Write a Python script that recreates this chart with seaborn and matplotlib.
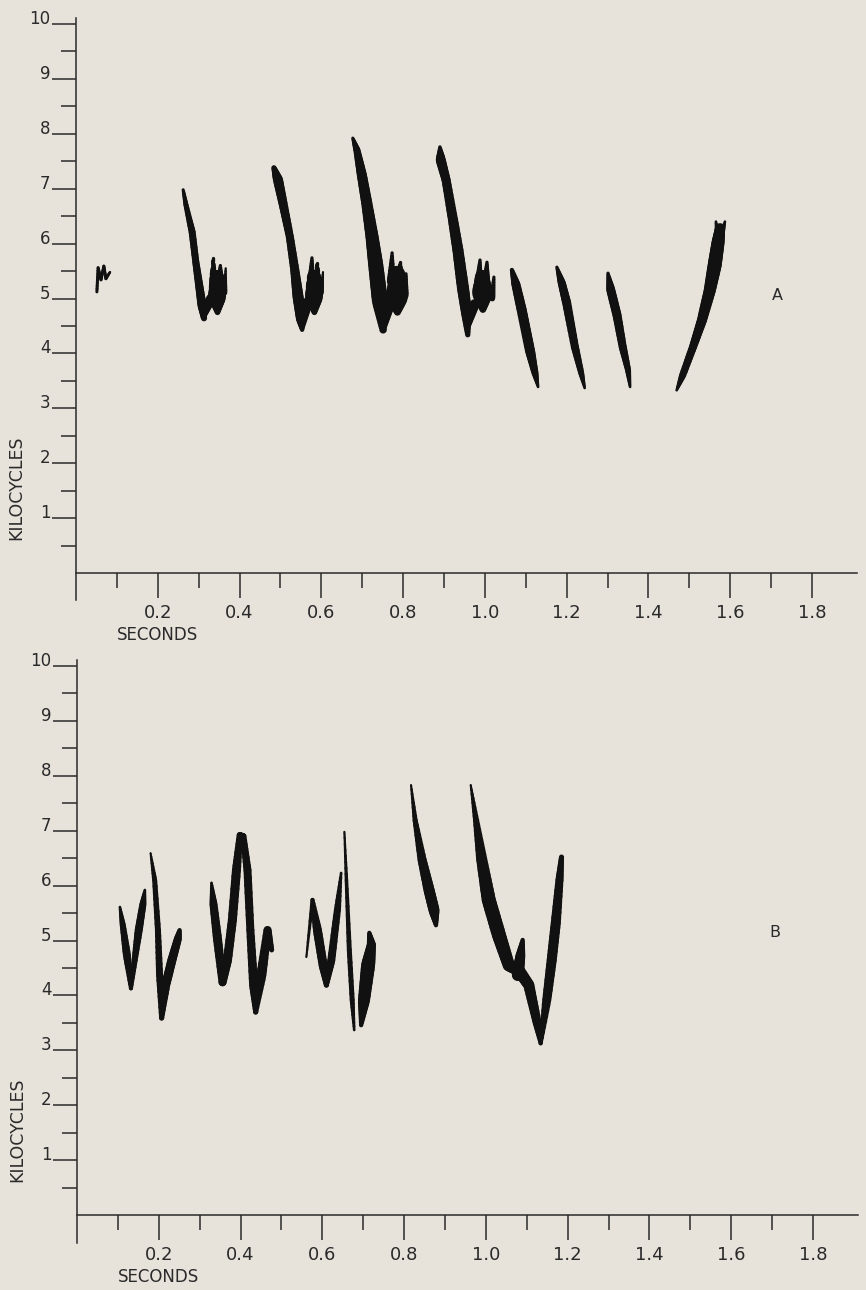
import numpy as np
import pandas as pd
import matplotlib
matplotlib.use("Agg")
import matplotlib.pyplot as plt
import seaborn as sns
from matplotlib.collections import LineCollection
from matplotlib.ticker import FixedLocator

# ---------------- axis data ----------------
X_MAJOR = [0.2, 0.4, 0.6, 0.8, 1.0, 1.2, 1.4, 1.6, 1.8]
X_LABELS = ["0.2", "0.4", "0.6", "0.8", "1.0", "1.2", "1.4", "1.6", "1.8"]
X_MINOR = [0.1, 0.3, 0.5, 0.7, 0.9, 1.1, 1.3, 1.5, 1.7]
Y_MAJOR = [1, 2, 3, 4, 5, 6, 7, 8, 9, 10]
Y_LABELS = ["1", "2", "3", "4", "5", "6", "7", "8", "9", "10"]
Y_MINOR = [0.5, 1.5, 2.5, 3.5, 4.5, 5.5, 6.5, 7.5, 8.5, 9.5]
X_TITLE = "SECONDS"
Y_TITLE = "KILOCYCLES"
PANEL_NAMES = ["A", "B"]
PANEL_LABEL_POS = [(1.715, 5.05), (1.707, 5.15)]

# ---------------- sonogram traces: time (s), frequency (kHz), trace thickness (px) ----------------
# Panel A
A0_t = [0.051, 0.054, 0.061, 0.068, 0.073, 0.083]
A0_f = [5.12, 5.56, 5.34, 5.59, 5.36, 5.48]
A0_w = [3, 3, 3, 3, 3, 2.5]

A1_t = [0.262, 0.269, 0.284, 0.293, 0.301, 0.308, 0.313]
A1_f = [6.98, 6.70, 6.21, 5.66, 5.25, 4.88, 4.64]
A1_w = [3, 5, 7, 7, 8, 9, 6]
A1k_t = [0.313, 0.330]; A1k_f = [4.70, 5.00]; A1k_w = [6, 10]
A1b_t = [0.346, 0.345, 0.345]; A1b_f = [4.75, 5.05, 5.40]; A1b_w = [5, 18, 14]
A1c1_t = [0.335, 0.335]; A1c1_f = [5.30, 5.74]; A1c1_w = [8, 3]
A1c2_t = [0.352, 0.353]; A1c2_f = [5.30, 5.60]; A1c2_w = [8, 3]
A1c3_t = [0.364, 0.366]; A1c3_f = [5.10, 5.55]; A1c3_w = [5, 2]

A2_t = [0.484, 0.494, 0.506, 0.523, 0.535, 0.543, 0.550, 0.553]
A2_f = [7.38, 7.16, 6.74, 6.12, 5.52, 5.03, 4.64, 4.43]
A2_w = [5, 10, 9, 8, 9, 11, 10, 4]
A2k_t = [0.553, 0.568]; A2k_f = [4.50, 4.95]; A2k_w = [6, 10]
A2b_t = [0.583, 0.582, 0.582]; A2b_f = [4.75, 5.05, 5.40]; A2b_w = [5, 18, 14]
A2c1_t = [0.575, 0.577]; A2c1_f = [5.30, 5.74]; A2c1_w = [8, 3]
A2c2_t = [0.589, 0.589]; A2c2_f = [5.30, 5.65]; A2c2_w = [8, 3]
A2c3_t = [0.600, 0.604]; A2c3_f = [5.10, 5.48]; A2c3_w = [5, 2]

A3_t = [0.677, 0.687, 0.699, 0.711, 0.724, 0.733, 0.743, 0.751]
A3_f = [7.92, 7.70, 7.25, 6.74, 6.12, 5.61, 4.97, 4.43]
A3_w = [3, 7, 10, 11, 13, 15, 16, 7]
A3k_t = [0.751, 0.768]; A3k_f = [4.50, 4.95]; A3k_w = [8, 12]
A3b_t = [0.786, 0.785, 0.785]; A3b_f = [4.75, 5.05, 5.45]; A3b_w = [6, 22, 16]
A3c1_t = [0.771, 0.773]; A3c1_f = [5.30, 5.83]; A3c1_w = [9, 3]
A3c2_t = [0.792, 0.792]; A3c2_f = [5.30, 5.66]; A3c2_w = [9, 3]
A3c3_t = [0.805, 0.807]; A3c3_f = [5.05, 5.45]; A3c3_w = [7, 3]

A4_t = [0.890, 0.892, 0.905, 0.922, 0.934, 0.946, 0.954, 0.958]
A4_f = [7.76, 7.52, 7.16, 6.43, 5.88, 5.21, 4.79, 4.34]
A4_w = [3, 10, 9, 10, 11, 12, 11, 5]
A4k_t = [0.958, 0.975]; A4k_f = [4.50, 4.90]; A4k_w = [6, 10]
A4b_t = [0.995, 0.994, 0.994]; A4b_f = [4.80, 5.10, 5.40]; A4b_w = [6, 20, 14]
A4c1_t = [0.985, 0.988]; A4c1_f = [5.30, 5.70]; A4c1_w = [8, 3]
A4c2_t = [1.003, 1.005]; A4c2_f = [5.30, 5.66]; A4c2_w = [8, 3]
A4c3_t = [1.018, 1.022]; A4c3_f = [5.00, 5.39]; A4c3_w = [6, 3]

A5_t = [1.066, 1.076, 1.090, 1.110, 1.122, 1.130]
A5_f = [5.52, 5.25, 4.79, 4.06, 3.66, 3.39]
A5_w = [4, 9, 10, 10, 7, 2.5]

A6_t = [1.176, 1.188, 1.200, 1.220, 1.235, 1.244]
A6_f = [5.57, 5.28, 4.92, 4.12, 3.66, 3.37]
A6_w = [3, 8, 9, 8, 6, 2.5]

A7_t = [1.301, 1.308, 1.323, 1.337, 1.350, 1.355]
A7_f = [5.46, 5.15, 4.70, 4.12, 3.70, 3.39]
A7_w = [3, 9, 9, 8, 6, 2.5]

A8_t = [1.469, 1.484, 1.509, 1.531, 1.550, 1.562, 1.570, 1.575]
A8_f = [3.33, 3.61, 4.12, 4.61, 5.15, 5.61, 6.01, 6.28]
A8_w = [2.5, 7, 8, 10, 12, 14, 13, 10]
A8p1_t = [1.570, 1.565]; A8p1_f = [6.10, 6.40]; A8p1_w = [6, 2.5]
A8p2_t = [1.578, 1.587]; A8p2_f = [6.10, 6.40]; A8p2_w = [6, 2.5]

# Panel B
B1_t = [0.105, 0.112, 0.122, 0.132, 0.141, 0.151, 0.161, 0.166]
B1_f = [5.61, 5.28, 4.74, 4.13, 4.64, 5.19, 5.65, 5.92]
B1_w = [2.5, 6, 8, 4, 6, 8, 7, 2.5]

B2_t = [0.180, 0.190, 0.198, 0.202, 0.207, 0.217, 0.232, 0.246, 0.251]
B2_f = [6.59, 6.10, 5.19, 4.37, 3.59, 4.19, 4.64, 5.01, 5.19]
B2_w = [2, 5, 6, 7, 5, 9, 9, 8, 4]

B3_t = [0.329, 0.334, 0.344, 0.356, 0.368, 0.380, 0.390, 0.398, 0.407,
        0.417, 0.424, 0.432, 0.437, 0.451, 0.466, 0.476]
B3_f = [6.05, 5.65, 5.01, 4.24, 4.64, 5.37, 6.28, 6.92, 6.90,
        6.28, 5.19, 4.19, 3.70, 4.37, 5.19, 4.83]
B3_w = [2.5, 8, 9, 8, 9, 9, 9, 6, 6, 8, 8, 9, 5, 10, 8, 5]

B4_t = [0.561, 0.576, 0.588, 0.602, 0.610, 0.622, 0.637, 0.646]
B4_f = [4.70, 5.74, 5.19, 4.55, 4.19, 4.64, 5.56, 6.23]
B4_w = [2, 4, 9, 9, 5, 8, 7, 2.5]

B5_t = [0.654, 0.659, 0.666, 0.673, 0.678]
B5_f = [6.98, 6.10, 4.83, 3.92, 3.37]
B5_w = [2, 3.5, 5, 5, 2.5]

B6_t = [0.695, 0.702, 0.712, 0.720, 0.715]
B6_f = [3.46, 3.92, 4.55, 4.92, 5.14]
B6_w = [4, 12, 14, 9, 4]

B7_t = [0.817, 0.827, 0.844, 0.861, 0.873, 0.878]
B7_f = [7.83, 7.19, 6.47, 5.92, 5.56, 5.28]
B7_w = [2, 5, 9, 11, 11, 4]

B8_t = [0.963, 0.976, 0.990, 1.007, 1.032, 1.056, 1.080, 1.105, 1.124, 1.134,
        1.149, 1.161, 1.171, 1.180, 1.185]
B8_f = [7.83, 7.19, 6.47, 5.74, 5.10, 4.55, 4.46, 4.19, 3.55, 3.13,
        3.92, 4.64, 5.32, 6.10, 6.52]
B8_w = [2, 6, 11, 14, 14, 12, 12, 11, 9, 4, 9, 10, 10, 8, 5]
B8c_t = [1.078, 1.084, 1.090]; B8c_f = [4.37, 4.70, 5.01]; B8c_w = [12, 10, 4]

PANEL_A_TRACES = [
    (A0_t, A0_f, A0_w),
    (A1_t, A1_f, A1_w), (A1k_t, A1k_f, A1k_w), (A1b_t, A1b_f, A1b_w),
    (A1c1_t, A1c1_f, A1c1_w), (A1c2_t, A1c2_f, A1c2_w), (A1c3_t, A1c3_f, A1c3_w),
    (A2_t, A2_f, A2_w), (A2k_t, A2k_f, A2k_w), (A2b_t, A2b_f, A2b_w),
    (A2c1_t, A2c1_f, A2c1_w), (A2c2_t, A2c2_f, A2c2_w), (A2c3_t, A2c3_f, A2c3_w),
    (A3_t, A3_f, A3_w), (A3k_t, A3k_f, A3k_w), (A3b_t, A3b_f, A3b_w),
    (A3c1_t, A3c1_f, A3c1_w), (A3c2_t, A3c2_f, A3c2_w), (A3c3_t, A3c3_f, A3c3_w),
    (A4_t, A4_f, A4_w), (A4k_t, A4k_f, A4k_w), (A4b_t, A4b_f, A4b_w),
    (A4c1_t, A4c1_f, A4c1_w), (A4c2_t, A4c2_f, A4c2_w), (A4c3_t, A4c3_f, A4c3_w),
    (A5_t, A5_f, A5_w), (A6_t, A6_f, A6_w), (A7_t, A7_f, A7_w),
    (A8_t, A8_f, A8_w), (A8p1_t, A8p1_f, A8p1_w), (A8p2_t, A8p2_f, A8p2_w),
]
PANEL_B_TRACES = [
    (B1_t, B1_f, B1_w), (B2_t, B2_f, B2_w), (B3_t, B3_f, B3_w),
    (B4_t, B4_f, B4_w), (B5_t, B5_f, B5_w), (B6_t, B6_f, B6_w),
    (B7_t, B7_f, B7_w), (B8_t, B8_f, B8_w), (B8c_t, B8c_f, B8c_w),
]

# ---------------- style ----------------
BG = "#e7e3db"
INK = "#111111"
AXC = "#2a2a2a"
DPI = 100
PX2PT = 72.0 / DPI

sns.set_theme(style="ticks")
plt.rcParams["font.family"] = ["DejaVu Sans"]
plt.rcParams["text.color"] = AXC


def draw_trace(ax, t, f, w):
    df = pd.DataFrame({"t": t, "f": f})
    sns.lineplot(data=df, x="t", y="f", sort=False, estimator=None,
                 color=INK, lw=1.0, ax=ax)
    t = np.asarray(t, float)
    f = np.asarray(f, float)
    w = np.asarray(w, float)
    segs, widths = [], []
    n = 8
    for i in range(len(t) - 1):
        for k in range(n):
            a, b = k / n, (k + 1) / n
            p0 = (t[i] + (t[i + 1] - t[i]) * a, f[i] + (f[i + 1] - f[i]) * a)
            p1 = (t[i] + (t[i + 1] - t[i]) * b, f[i] + (f[i + 1] - f[i]) * b)
            segs.append([p0, p1])
            widths.append((w[i] + (w[i + 1] - w[i]) * (a + b) / 2) * PX2PT)
    lc = LineCollection(segs, linewidths=widths, colors=INK,
                        capstyle="round", joinstyle="round", zorder=3)
    ax.add_collection(lc)


def setup_axes(ax):
    ax.set_facecolor(BG)
    ax.set_xlim(0, 1.91)
    ax.set_ylim(-0.5, 10.11)
    for s in ("top", "right"):
        ax.spines[s].set_visible(False)
    ax.spines["bottom"].set_position(("data", 0))
    ax.spines["left"].set_position(("data", 0))
    for s in ("bottom", "left"):
        ax.spines[s].set_color(AXC)
        ax.spines[s].set_linewidth(1.1)
    ax.xaxis.set_major_locator(FixedLocator(X_MAJOR))
    ax.xaxis.set_minor_locator(FixedLocator(X_MINOR))
    ax.yaxis.set_major_locator(FixedLocator(Y_MAJOR))
    ax.yaxis.set_minor_locator(FixedLocator(Y_MINOR))
    ax.set_xticklabels(X_LABELS)
    ax.set_yticklabels(Y_LABELS)
    ax.tick_params(axis="x", which="major", direction="out", length=18,
                   width=1.1, color=AXC, pad=4, labelsize=13, labelcolor=AXC)
    ax.tick_params(axis="x", which="minor", direction="out", length=10.5,
                   width=1.1, color=AXC)
    ax.tick_params(axis="y", which="major", direction="out", length=17,
                   width=1.1, color=AXC, pad=1.5, labelsize=12, labelcolor=AXC)
    ax.tick_params(axis="y", which="minor", direction="out", length=11,
                   width=1.1, color=AXC)
    for tk in ax.yaxis.get_major_ticks():
        tk.label1.set_va("baseline")
    ax.set_xlabel("")
    ax.set_ylabel("")
    ax.grid(False)


fig = plt.figure(figsize=(8.66, 12.9), dpi=DPI, facecolor=BG)
axA = fig.add_axes([0.0878, 0.5345, 0.9018, 0.4516])
axB = fig.add_axes([0.0889, 0.0368, 0.9018, 0.4516])

for ax, traces, name, pos in zip((axA, axB), (PANEL_A_TRACES, PANEL_B_TRACES),
                                 PANEL_NAMES, PANEL_LABEL_POS):
    for t, f, w in traces:
        draw_trace(ax, t, f, w)
    setup_axes(ax)
    ax.text(pos[0], pos[1], name, ha="center", va="center", fontsize=11.5,
            color=AXC)
    ax.text(0.2, -1.13, X_TITLE, ha="center", va="center", fontsize=12,
            color=AXC)
    ax.text(-0.147, 1.55, Y_TITLE, ha="center", va="center", rotation=90,
            fontsize=12.5, color=AXC, clip_on=False)

fig.savefig("out.png", dpi=DPI, facecolor=BG)
